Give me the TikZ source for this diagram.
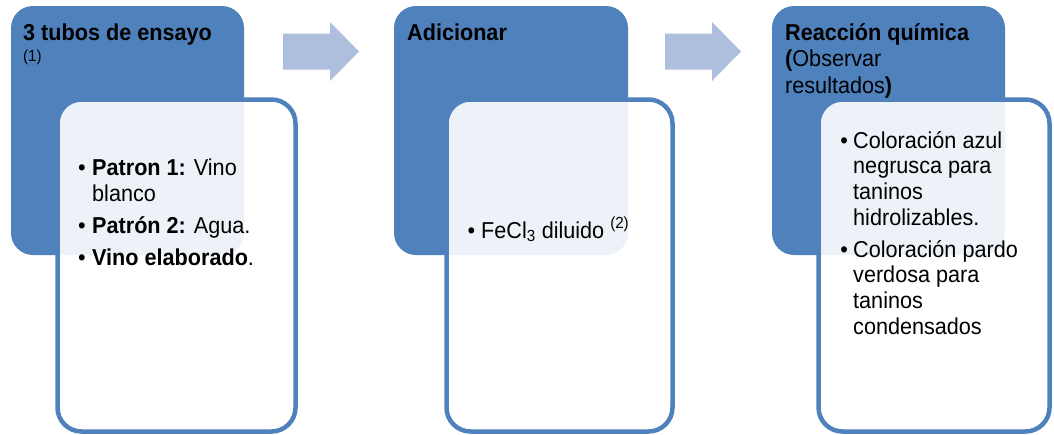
\documentclass[tikz,border=0pt]{standalone}
\usepackage{fontspec}
\setmainfont{Liberation Sans}[FakeStretch=0.94]
\definecolor{accent}{RGB}{79,129,189}
\definecolor{arrowfill}{RGB}{174,191,221}
\newcommand{\bodysize}{\fontsize{23}{26}\selectfont}
\newcommand{\bul}[1]{\makebox[#1][l]{•}}
\tikzset{
  headbox/.style={fill=accent, draw=none, rounded corners=22pt, inner sep=0pt, outer sep=0pt, anchor=north west},
  panel/.style={fill=white, fill opacity=0.9, draw=accent, line width=4.5pt, rounded corners=24pt, inner sep=0pt, outer sep=0pt, anchor=north west},
  title/.style={anchor=base west, inner sep=0pt, font=\bodysize\bfseries, text=black},
  item/.style={anchor=base west, inner sep=0pt, font=\bodysize, text=black},
  steparrow/.style={fill=arrowfill, draw=none}
}
\begin{document}
\begin{tikzpicture}[x=1pt, y=-1pt]
\useasboundingbox (0,0) rectangle (1054,434);

% header blocks
\node[headbox, minimum width=233pt, minimum height=249pt] (h1) at (11,6) {};
\node[headbox, minimum width=234pt, minimum height=249pt] (h2) at (394,6) {};
\node[headbox, minimum width=233pt, minimum height=249pt] (h3) at (772,6) {};

% content panels, partly covering the header blocks
\node[panel, minimum width=238pt, minimum height=332pt] (p1) at (57.5,99.5) {};
\node[panel, minimum width=226pt, minimum height=332pt] (p2) at (446.5,99.5) {};
\node[panel, minimum width=231pt, minimum height=332pt] (p3) at (818.5,99.5) {};

% arrows between the steps
\coordinate (a1) at (283,51.5);
\coordinate (a2) at (665,51.5);
\foreach \a in {a1,a2}{
  \fill[steparrow] ([shift={(0,-18)}]\a) -- ++(47,0) -- ++(0,-11.5) -- ++(29,29.5)
     -- ++(-29,29.5) -- ++(0,-11.5) -- ++(-47,0) -- cycle;
}

% titles
\node[title] (t1) at (23,40) {3 tubos de ensayo};
\node[anchor=base west, inner sep=0pt, text=black] (t1n) at (23,61) {\fontsize{16}{18}\selectfont (1)};
\node[title] (t2) at (407,40) {Adicionar};
\node[title] (t3) at (785,40) {\parbox[t]{215pt}{\fontsize{23}{26.5}\selectfont\mdseries
  \textbf{Reacción química}\\ \textbf{(}Observar\\ resultados\textbf{)}}};

% step 1 items
\node[item] (i1a) at (77.8,175) {\bul{14.2pt}\parbox[t]{190pt}{\fontsize{23}{26.5}\selectfont\textbf{Patron 1:} Vino\\ blanco}};
\node[item] (i1b) at (77.8,233) {\bul{14.2pt}\textbf{Patrón 2:} Agua.};
\node[item] (i1c) at (77.8,265) {\bul{14.2pt}\textbf{Vino elaborado}.};

% step 2 item
\node[item] (i2a) at (467.5,238) {\bul{13.5pt}FeCl\textsubscript{3} diluido \textsuperscript{(2)}};

% step 3 items
\node[item] (i3a) at (840.2,148) {\bul{12.8pt}\parbox[t]{190pt}{\fontsize{23}{25.7}\selectfont Coloración azul\\ negrusca para\\ taninos\\ hidrolizables.}};
\node[item] (i3b) at (840.2,257) {\bul{12.8pt}\parbox[t]{190pt}{\fontsize{23}{25.7}\selectfont Coloración pardo\\ verdosa para\\ taninos\\ condensados}};
\end{tikzpicture}
\end{document}
